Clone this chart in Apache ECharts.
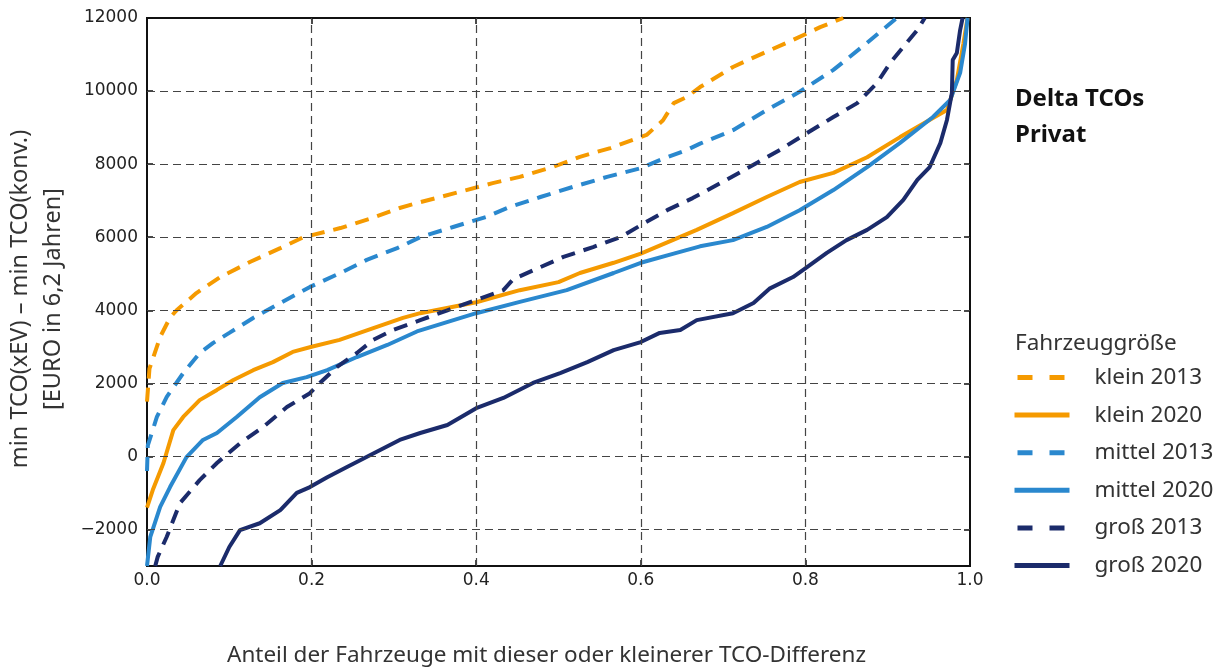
<!DOCTYPE html>
<html>
<head>
<meta charset="utf-8">
<script src="https://cdn.jsdelivr.net/npm/echarts@6/dist/echarts.min.js"></script>
<style>
html,body{margin:0;padding:0;background:#fff;}
#chart{width:1223px;height:667px;}
</style>
</head>
<body>
<div id="chart"></div>
<script>
// ---- Data ----
const seriesNames = ['klein 2013', 'klein 2020', 'mittel 2013', 'mittel 2020', 'groß 2013', 'groß 2020'];

const klein2013X = [0, 0.003, 0.004, 0.016, 0.028, 0.036, 0.06, 0.089, 0.125, 0.162, 0.19, 0.235, 0.27, 0.307, 0.332, 0.38, 0.42, 0.453, 0.493, 0.526, 0.563, 0.6, 0.607, 0.627, 0.64, 0.656, 0.672, 0.712, 0.749, 0.785, 0.818, 0.846];
const klein2013Y = [1500, 2400, 2450, 3270, 3800, 4000, 4470, 4910, 5320, 5700, 6000, 6250, 6500, 6800, 6960, 7240, 7480, 7650, 7920, 8200, 8440, 8740, 8800, 9200, 9670, 9840, 10110, 10660, 11040, 11400, 11750, 12000];

const klein2020X = [0, 0.007, 0.02, 0.032, 0.044, 0.064, 0.085, 0.105, 0.129, 0.153, 0.177, 0.2, 0.234, 0.275, 0.311, 0.332, 0.4, 0.453, 0.5, 0.526, 0.567, 0.6, 0.668, 0.712, 0.753, 0.793, 0.834, 0.875, 0.915, 0.955, 0.972, 0.984, 0.992, 0.997];
const klein2020Y = [-1400, -920, -180, 720, 1080, 1540, 1820, 2090, 2360, 2580, 2860, 3000, 3190, 3510, 3790, 3920, 4220, 4550, 4770, 5020, 5300, 5550, 6200, 6660, 7100, 7510, 7760, 8190, 8740, 9260, 9480, 10300, 11300, 12000];

const mittel2013X = [0, 0.001, 0.012, 0.024, 0.044, 0.064, 0.08, 0.1, 0.129, 0.162, 0.198, 0.235, 0.267, 0.304, 0.332, 0.372, 0.413, 0.441, 0.478, 0.518, 0.559, 0.6, 0.623, 0.656, 0.672, 0.712, 0.753, 0.793, 0.834, 0.875, 0.911];
const mittel2013Y = [-400, 300, 1080, 1630, 2280, 2830, 3100, 3380, 3790, 4200, 4640, 5020, 5380, 5700, 6000, 6280, 6560, 6830, 7100, 7380, 7650, 7890, 8110, 8390, 8560, 8930, 9480, 9980, 10580, 11320, 12000];

const mittel2020X = [0, 0.004, 0.016, 0.028, 0.048, 0.068, 0.085, 0.109, 0.137, 0.165, 0.194, 0.219, 0.255, 0.292, 0.328, 0.4, 0.453, 0.51, 0.567, 0.6, 0.64, 0.672, 0.712, 0.753, 0.793, 0.834, 0.875, 0.915, 0.955, 0.976, 0.988, 0.994, 0.997];
const mittel2020Y = [-3000, -2200, -1380, -840, -20, 450, 640, 1080, 1620, 2010, 2170, 2360, 2720, 3050, 3420, 3920, 4230, 4550, 5020, 5300, 5550, 5750, 5920, 6280, 6740, 7290, 7920, 8580, 9290, 9760, 10500, 11300, 12000];

const gross2013X = [0.01, 0.013, 0.024, 0.04, 0.064, 0.085, 0.113, 0.141, 0.17, 0.198, 0.21, 0.231, 0.255, 0.275, 0.299, 0.332, 0.365, 0.4, 0.433, 0.445, 0.478, 0.506, 0.542, 0.575, 0.607, 0.632, 0.663, 0.704, 0.732, 0.769, 0.802, 0.834, 0.863, 0.887, 0.903, 0.919, 0.936, 0.945];
const gross2013Y = [-3000, -2750, -2200, -1280, -650, -180, 360, 800, 1350, 1730, 2010, 2450, 2830, 3190, 3460, 3730, 4000, 4280, 4550, 4850, 5180, 5460, 5730, 6000, 6420, 6740, 7070, 7570, 7920, 8390, 8850, 9290, 9670, 10220, 10770, 11210, 11670, 12000];

const gross2020X = [0.089, 0.1, 0.113, 0.137, 0.162, 0.182, 0.198, 0.219, 0.243, 0.275, 0.307, 0.332, 0.365, 0.4, 0.433, 0.469, 0.502, 0.535, 0.567, 0.6, 0.623, 0.648, 0.668, 0.712, 0.737, 0.757, 0.785, 0.802, 0.826, 0.85, 0.875, 0.899, 0.919, 0.936, 0.951, 0.964, 0.972, 0.978, 0.979, 0.984, 0.988, 0.991];
const gross2020Y = [-3000, -2480, -2020, -1830, -1470, -1000, -840, -570, -290, 80, 450, 640, 860, 1320, 1600, 2010, 2280, 2580, 2910, 3130, 3380, 3460, 3730, 3920, 4200, 4600, 4910, 5180, 5570, 5920, 6200, 6550, 7020, 7570, 7920, 8580, 9210, 9950, 10850, 11040, 11670, 12000];

const xTicks = [0, 0.2, 0.4, 0.6, 0.8, 1.0];
const yTicks = [-2000, 0, 2000, 4000, 6000, 8000, 10000, 12000];

// ---- Chart ----
const colors = ['#F59A00', '#F59A00', '#2A88CE', '#2A88CE', '#1B2B6B', '#1B2B6B'];
const dashed = [true, false, true, false, true, false];
const xs = [klein2013X, klein2020X, mittel2013X, mittel2020X, gross2013X, gross2020X];
const ys = [klein2013Y, klein2020Y, mittel2013Y, mittel2020Y, gross2013Y, gross2020Y];

const FONT = '"Noto Sans", "Open Sans", sans-serif';
const TICKFONT = '"DejaVu Sans", sans-serif';

const series = seriesNames.map((name, i) => ({
  name: name,
  type: 'line',
  data: xs[i].map((x, j) => [x, ys[i][j]]),
  showSymbol: false,
  symbol: 'none',
  smooth: false,
  clip: true,
  color: colors[i],
  lineStyle: {
    width: 4,
    color: colors[i],
    type: dashed[i] ? [14, 9] : 'solid',
    cap: 'butt'
  },
  z: 3
}));

// Grid lines drawn as markLines at tick values
series.push({
  name: '_grid',
  type: 'line',
  data: [],
  silent: true,
  z: 1,
  markLine: {
    silent: true,
    symbol: 'none',
    label: { show: false },
    lineStyle: { color: '#444', width: 1.2, type: [8, 5] },
    data: yTicks.filter(v => v > -3000 && v < 12000).map(v => ({ yAxis: v }))
      .concat(xTicks.filter(v => v > 0 && v < 1).map(v => ({ xAxis: v })))
  }
});

const legendData = seriesNames.map((name, i) => ({
  name: name,
  lineStyle: { width: 5, type: dashed[i] ? [15, 17] : 'solid', dashOffset: -3, cap: 'butt' }
}));

const option = {
  animation: false,
  backgroundColor: '#fff',
  title: [
    { text: 'Delta TCOs\nPrivat', left: 1010, top: 76,
      textStyle: { fontFamily: FONT, fontSize: 24, fontWeight: 'bold', color: '#111', lineHeight: 36 } },
    { text: 'Fahrzeuggröße', left: 1010, top: 327,
      textStyle: { fontFamily: FONT, fontSize: 22.5, fontWeight: 'normal', color: '#333', lineHeight: 24 } }
  ],
  legend: {
    data: legendData,
    orient: 'vertical',
    left: 1007,
    top: 361,
    itemWidth: 55,
    itemHeight: 14,
    itemGap: 14.6,
    itemStyle: { color: 'rgba(0,0,0,0)', borderColor: 'rgba(0,0,0,0)', borderWidth: 0 },
    textStyle: { fontFamily: FONT, fontSize: 22.5, color: '#333', lineHeight: 22, padding: [0, 0, 0, 20] }
  },
  grid: {
    left: 147, right: 253, top: 18, bottom: 101,
    show: true, borderColor: '#111', borderWidth: 2, containLabel: false,
    outerBoundsMode: 'none'
  },
  xAxis: [{
    type: 'value', min: 0, max: 1, interval: 0.2,
    name: 'Anteil der Fahrzeuge mit dieser oder kleinerer TCO-Differenz',
    nameLocation: 'middle', nameGap: 78,
    nameTextStyle: { fontFamily: FONT, fontSize: 22.5, color: '#333', padding: [0, 24, 0, 0] },
    axisLine: { show: true, onZero: false, lineStyle: { color: '#111', width: 2 } },
    axisTick: { show: true, inside: true, length: 6, lineStyle: { color: '#111', width: 1.5 } },
    axisLabel: { fontFamily: TICKFONT, fontSize: 17, color: '#222', margin: 6,
      formatter: v => v.toFixed(1) },
    splitLine: { show: false }
  }, {
    type: 'value', min: 0, max: 1, interval: 0.2, position: 'top',
    axisLine: { show: true, onZero: false, lineStyle: { color: '#111', width: 2 } },
    axisTick: { show: true, inside: true, length: 6, lineStyle: { color: '#111', width: 1.5 } },
    axisLabel: { show: false }, splitLine: { show: false }
  }],
  yAxis: [{
    type: 'value', min: -3000, max: 12000, splitNumber: 7,
    name: 'min TCO(xEV) – min TCO(konv.)\n[EURO in 6,2 Jahren]',
    nameLocation: 'middle', nameGap: 73, nameRotate: 90,
    nameTextStyle: { fontFamily: FONT, fontSize: 23.5, color: '#333', lineHeight: 33, padding: [0, 14, 0, 0] },
    axisLine: { show: true, onZero: false, lineStyle: { color: '#111', width: 2 } },
    axisTick: { show: true, inside: true, length: 6, lineStyle: { color: '#111', width: 1.5 } },
    axisLabel: { fontFamily: TICKFONT, fontSize: 17, color: '#222', margin: 9, showMinLabel: false,
      formatter: v => (v < -2500 ? '' : String(v).replace('-', '\u2212')) },
    splitLine: { show: false }
  }, {
    type: 'value', min: -3000, max: 12000, splitNumber: 7, position: 'right',
    axisLine: { show: true, onZero: false, lineStyle: { color: '#111', width: 2 } },
    axisTick: { show: true, inside: true, length: 6, lineStyle: { color: '#111', width: 1.5 } },
    axisLabel: { show: false }, splitLine: { show: false }
  }],
  series: series
};

const chart = echarts.init(document.getElementById('chart'), null, { renderer: 'canvas' });
chart.setOption(option);
</script>
</body>
</html>
